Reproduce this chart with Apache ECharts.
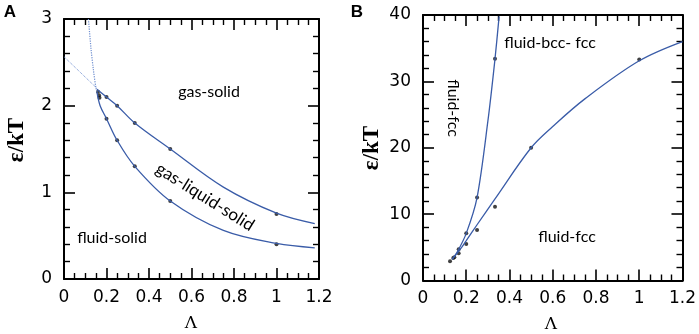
<!DOCTYPE html>
<html><head><meta charset="utf-8">
<script src="https://cdn.jsdelivr.net/npm/echarts@6/dist/echarts.min.js"></script>
<style>html,body{margin:0;padding:0;background:#fff}#a{position:absolute;left:0;top:0;width:349px;height:334px}#b{position:absolute;left:349px;top:0;width:350px;height:334px}</style>
</head><body><div id="a"></div><div id="b"></div>
<script>
// ---------- tick values ----------
const xTicks = [0, 0.2, 0.4, 0.6, 0.8, 1, 1.2];
const yTicksA = [0, 1, 2, 3];
const yTicksB = [0, 10, 20, 30, 40];

// ---------- Panel A data ----------
const upperA_x = [0.155, 0.2, 0.25, 0.333, 0.5, 0.75, 1.0, 1.18];
const upperA_y = [2.19, 2.1, 2.0, 1.8, 1.5, 1.06, 0.76, 0.64];
const lowerA_x = [0.155, 0.17, 0.2, 0.25, 0.333, 0.5, 0.75, 1.0, 1.18];
const lowerA_y = [2.16, 2.0, 1.85, 1.6, 1.3, 0.9, 0.56, 0.41, 0.36];
const steepDotA_x = [0.115, 0.127, 0.138, 0.15, 0.157];
const steepDotA_y = [3.0, 2.66, 2.42, 2.21, 2.15];
const flatDotA_x = [0, 0.155];
const flatDotA_y = [2.565, 2.2];
const pointsA_x = [0.16, 0.165, 0.167, 0.2, 0.25, 0.333, 0.5, 1.0, 0.2, 0.25, 0.333, 0.5, 1.0];
const pointsA_y = [2.16, 2.12, 2.09, 2.1, 2.0, 1.8, 1.5, 0.75, 1.85, 1.6, 1.3, 0.9, 0.4];

// ---------- Panel B data ----------
const steepB_x = [0.135, 0.16, 0.2, 0.25, 0.3, 0.333, 0.352];
const steepB_y = [3.2, 4.4, 7.1, 12.5, 24.0, 33.4, 39.8];
const shallowB_x = [0.135, 0.17, 0.2, 0.25, 0.333, 0.5, 0.6, 0.75, 1.0, 1.2];
const shallowB_y = [3.2, 4.6, 6.0, 8.4, 12.3, 20.0, 23.2, 27.4, 33.1, 36.0];
const pointsB_x = [0.125, 0.14, 0.145, 0.165, 0.165, 0.2, 0.2, 0.25, 0.25, 0.333, 0.333, 0.5, 1.0];
const pointsB_y = [2.9, 3.4, 3.5, 4.1, 4.7, 5.5, 7.1, 7.6, 12.5, 11.1, 33.4, 20.0, 33.3];

const zip = (xs, ys) => xs.map((x, i) => [x, ys[i]]);

const LINE = '#3a5ca8';
const LIGHT = '#6f8fd0';

function makeX(grid, pos, showLabel) {
  return {
    type: 'value', gridIndex: grid, position: pos,
    min: xTicks[0], max: xTicks[xTicks.length - 1], interval: 0.2,
    axisLine: {show: true, onZero: false, lineStyle: {color: '#000', width: 2}},
    axisTick: {show: true, inside: true, length: 11, lineStyle: {color: '#000', width: 1.6}},
    minorTick: {show: true, splitNumber: 4, length: 6, lineStyle: {color: '#000', width: 1.4}},
    splitLine: {show: false}, minorSplitLine: {show: false},
    axisLabel: {show: showLabel, margin: 10, fontSize: 17, fontFamily: 'DejaVu Sans', color: '#000'}
  };
}
function makeY(grid, pos, showLabel, ticks) {
  return {
    type: 'value', gridIndex: grid, position: pos,
    min: ticks[0], max: ticks[ticks.length - 1], interval: ticks[1] - ticks[0],
    axisLine: {show: true, onZero: false, lineStyle: {color: '#000', width: 2}},
    axisTick: {show: true, inside: true, length: 11, lineStyle: {color: '#000', width: 1.6}},
    minorTick: {show: true, splitNumber: 5, length: 6, lineStyle: {color: '#000', width: 1.4}},
    splitLine: {show: false}, minorSplitLine: {show: false},
    axisLabel: {show: showLabel, margin: 12, fontSize: 17, fontFamily: 'DejaVu Sans', color: '#000'}
  };
}
function curve(data, color, width, type, smooth) {
  return {type: 'line', xAxisIndex: 0, yAxisIndex: 0, data: data, symbol: 'none',
    smooth: smooth, lineStyle: {color: color, width: width, type: type}};
}
function dots(data) {
  return {type: 'scatter', xAxisIndex: 0, yAxisIndex: 0, data: data, symbolSize: 4,
    itemStyle: {color: '#111'}};
}
function txt(x, y, s, font, rot) {
  const e = {type: 'text', x: x, y: y, style: {text: s, font: font, fill: '#000', align: 'center', verticalAlign: 'middle'}};
  if (rot) e.rotation = rot;
  return e;
}
const REG = '16px Lato';
const TITLE = 'bold 23px "Liberation Serif"';
const LAM = '17px "DejaVu Serif"';
const LET = 'bold 17px "Liberation Sans"';

const chartA = echarts.init(document.getElementById('a'));
chartA.setOption({
  animation: false,
  grid: [{left: 64, top: 19, width: 255, height: 260}],
  xAxis: [makeX(0, 'bottom', true), makeX(0, 'top', false)],
  yAxis: [makeY(0, 'left', true, yTicksA), makeY(0, 'right', false, yTicksA)],
  series: [
    curve(zip(flatDotA_x, flatDotA_y), LIGHT, 1, 'dotted', false),
    curve(zip(steepDotA_x, steepDotA_y), LIGHT, 1.2, 'dotted', 0.3),
    curve(zip(upperA_x, upperA_y), LINE, 1.3, 'solid', 0.35),
    curve(zip(lowerA_x, lowerA_y), LINE, 1.3, 'solid', 0.35),
    dots(zip(pointsA_x, pointsA_y))
  ],
  graphic: [
    txt(10, 12, 'A', LET),
    txt(17, 140, 'ε/kT', TITLE, Math.PI / 2),
    txt(191, 324, 'Λ', LAM),
    txt(209, 92, 'gas-solid', REG),
    txt(205, 197, 'gas-liquid-solid', '17px Lato', -0.56),
    txt(112, 238, 'fluid-solid', REG)
  ]
});

const chartB = echarts.init(document.getElementById('b'));
chartB.setOption({
  animation: false,
  grid: [{left: 74, top: 15, width: 260.5, height: 265.5}],
  xAxis: [makeX(0, 'bottom', true), makeX(0, 'top', false)],
  yAxis: [makeY(0, 'left', true, yTicksB), makeY(0, 'right', false, yTicksB)],
  series: [
    curve(zip(steepB_x, steepB_y), LINE, 1.3, 'solid', 0.3),
    curve(zip(shallowB_x, shallowB_y), LINE, 1.3, 'solid', 0.35),
    dots(zip(pointsB_x, pointsB_y))
  ],
  graphic: [
    txt(8, 12, 'B', LET),
    txt(23, 148, 'ε/kT', TITLE, Math.PI / 2),
    txt(202, 325, 'Λ', LAM),
    txt(201, 43, 'fluid-bcc- fcc', REG),
    txt(104, 108, 'fluid-fcc', REG, -Math.PI / 2),
    txt(218, 237, 'fluid-fcc', REG)
  ]
});
</script></body></html>
